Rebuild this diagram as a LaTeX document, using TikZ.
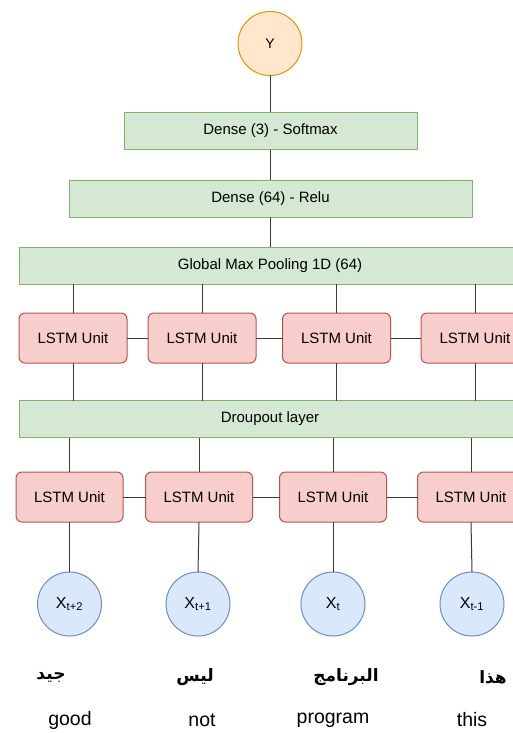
\documentclass[tikz,border=0pt]{standalone}
\usepackage{fontspec}
\setmainfont{Liberation Sans}
\newfontfamily\arabicfont[Script=Arabic]{DejaVu Sans}
\TeXXeTstate=1
\definecolor{greenfill}{HTML}{D5E8D4}
\definecolor{greenline}{HTML}{82B366}
\definecolor{redfill}{HTML}{F8CECC}
\definecolor{redline}{HTML}{B85450}
\definecolor{bluefill}{HTML}{DAE8FC}
\definecolor{blueline}{HTML}{6C8EBF}
\definecolor{orangefill}{HTML}{FFE6CC}
\definecolor{orangeline}{HTML}{D79B00}
\definecolor{wire}{HTML}{3A3A3A}
\begin{document}
\begin{tikzpicture}[x=1pt,y=-1pt,
  every node/.style={inner sep=0pt,outer sep=0pt},
  layer/.style={draw=greenline,fill=greenfill,line width=1pt,minimum height=37pt,font=\fontsize{15}{17}\selectfont},
  lstm/.style={draw=redline,fill=redfill,line width=1pt,rounded corners=6pt,minimum width=107pt,minimum height=50pt,font=\fontsize{15}{17}\selectfont},
  inp/.style={circle,draw=blueline,fill=bluefill,line width=1pt,minimum size=64pt,font=\fontsize{16}{18}\selectfont},
  outp/.style={circle,draw=orangeline,fill=orangefill,line width=1pt,minimum size=64pt,font=\fontsize{14}{16}\selectfont},
  wireline/.style={draw=wire,line width=1pt},
  arword/.style={font=\arabicfont\bfseries\fontsize{17}{19}\selectfont},
  enword/.style={font=\fontsize{19.5}{22}\selectfont}
]
\useasboundingbox (0,0) rectangle (513,733);
\clip (0,0) rectangle (513,733);

% output and dense head
\node[outp] (y) at (270,43.5) {Y};
\node[layer,minimum width=293pt] (d3) at (270.5,131) {Dense (3) - Softmax};
\node[layer,minimum width=403pt] (d64) at (270.5,198.5) {Dense (64) - Relu};
\node[layer,minimum width=502pt] (gmp) at (270,265.5) {Global Max Pooling 1D (64)};

% upper LSTM row
\node[lstm,minimum width=108pt] (u1) at (73,338) {LSTM Unit};
\node[lstm,minimum width=108pt] (u2) at (202,338) {LSTM Unit};
\node[lstm,minimum width=108pt] (u3) at (336.5,338) {LSTM Unit};
\node[lstm,minimum width=108pt] (u4) at (475,338) {LSTM Unit};

\node[layer,minimum width=502pt] (drop) at (270,419) {Droupout layer};

% lower LSTM row
\node[lstm] (l1) at (69.5,497) {LSTM Unit};
\node[lstm] (l2) at (199,497) {LSTM Unit};
\node[lstm] (l3) at (333,497) {LSTM Unit};
\node[lstm] (l4) at (471,497) {LSTM Unit};

% inputs
\node[inp] (x1) at (69.5,604) {X\textsubscript{t+2}};
\node[inp] (x2) at (198,604) {X\textsubscript{t+1}};
\node[inp] (x3) at (333,604) {X\textsubscript{t}};
\node[inp] (x4) at (472,604) {X\textsubscript{t-1}};

% words
\node[arword] (a1) at (51,677) {\beginR جيد\endR};
\node[arword] (a2) at (195,677) {\beginR ليس\endR};
\node[arword] (a3) at (346,677) {\beginR البرنامج\endR};
\node[arword] (a4) at (493,677) {\beginR هذا\endR};
\node[enword] (e1) at (70,720) {good};
\node[enword] (e2) at (202,720) {not};
\node[enword] (e3) at (333,720) {program};
\node[enword] (e4) at (472,720) {this};

% connectors
\draw[wireline] (y.south) -- (y.south |- d3.north);
\draw[wireline] (y.south |- d3.south) -- (y.south |- d64.north);
\draw[wireline] (y.south |- d64.south) -- (y.south |- gmp.north);
\foreach \u in {u1,u2,u3,u4}{
  \draw[wireline] (\u.north) -- (\u.north |- gmp.south);
  \draw[wireline] (\u.south) -- (\u.south |- drop.north);
}
\foreach \l in {l1,l2,l3,l4}{
  \draw[wireline] (\l.north) -- (\l.north |- drop.south);
}
\draw[wireline] (l1) -- (x1);
\draw[wireline] (l2.south) -- (x2.north);
\draw[wireline] (l3) -- (x3);
\draw[wireline] (l4.south) -- (x4.north);
\draw[wireline] (u1) -- (u2);
\draw[wireline] (u2) -- (u3);
\draw[wireline] (u3) -- (u4);
\draw[wireline] (l1) -- (l2);
\draw[wireline] (l2) -- (l3);
\draw[wireline] (l3) -- (l4);
\end{tikzpicture}
\end{document}
